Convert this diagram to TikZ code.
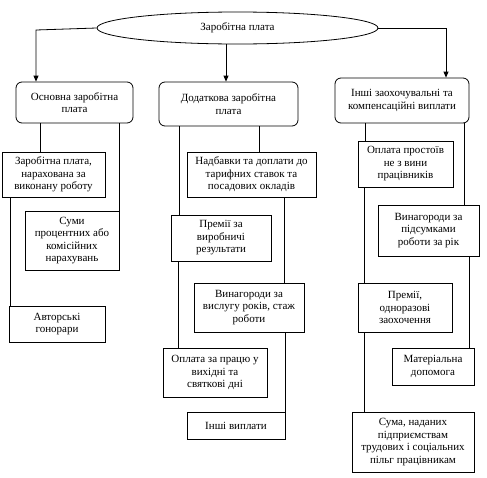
\documentclass[tikz,border=0pt]{standalone}
\usepackage{fontspec}
\setmainfont{Liberation Serif}
\usetikzlibrary{shapes.geometric,arrows.meta}
\begin{document}
\begin{tikzpicture}[x=1pt,y=-1pt,
  every node/.style={font=\fontsize{11}{12.5}\selectfont, align=center, inner sep=0pt},
  bx/.style={draw, line width=0.8pt, fill=white},
  rbx/.style={draw, line width=0.8pt, rounded corners=6pt, fill=white},
  ln/.style={line width=0.8pt},
  arr/.style={line width=0.8pt, -{Triangle[length=6pt,width=5pt]}}]
\useasboundingbox (0,0) rectangle (487,477);
\node[draw, ellipse, line width=0.8pt, minimum width=281pt, minimum height=32pt] (e) at (237.5,28) {Заробітна плата};
\node[rbx, minimum width=117pt, minimum height=41pt] (b1) at (74.5,102.5) {Основна заробітна\\плата};
\node[rbx, minimum width=139pt, minimum height=44pt] (b2) at (228.5,104) {Додаткова заробітна\\плата};
\node[rbx, minimum width=134pt, minimum height=45pt] (b3) at (402,100.5) {Інші заохочувальні та\\компенсаційні виплати};
\node[bx, minimum width=103pt, minimum height=45pt] (a1) at (53.5,174.5) {Заробітна плата,\\нарахована за\\виконану роботу};
\node[bx, minimum width=94pt, minimum height=59pt] (a2) at (72,240.5) {Суми\\процентних або\\комісійних\\нарахувань};
\node[bx, minimum width=96pt, minimum height=36pt] (a3) at (57,324) {Авторські\\гонорари};
\node[bx, minimum width=129pt, minimum height=45pt] (m1) at (251.5,174.5) {Надбавки та доплати до\\тарифних ставок та\\посадових окладів};
\node[bx, minimum width=100pt, minimum height=46pt] (m2) at (221,238) {Премії за\\виробничі\\результати};
\node[bx, minimum width=110pt, minimum height=49pt] (m3) at (249,307.5) {Винагороди за\\вислугу років, стаж\\роботи};
\node[bx, minimum width=104pt, minimum height=49pt] (m4) at (215,372.5) {Оплата за працю у\\вихідні та\\святкові дні};
\node[bx, minimum width=98pt, minimum height=27pt] (m5) at (236,425.5) {Інші виплати};
\node[bx, minimum width=95pt, minimum height=46pt] (r1) at (405.5,164) {Оплата простоїв\\не з вини\\працівників};
\node[bx, minimum width=101pt, minimum height=51pt] (r2) at (428.5,230.5) {Винагороди за\\підсумками\\роботи за рік};
\node[bx, minimum width=94pt, minimum height=49pt] (r3) at (405,307.5) {Премії,\\одноразові\\заохочення};
\node[bx, minimum width=82pt, minimum height=37pt] (r4) at (433,366.5) {Матеріальна\\допомога};
\node[bx, minimum width=122pt, minimum height=60pt] (r5) at (413,442) {Сума, наданих\\підприємствам\\трудових і соціальних\\пільг працівникам};
% arrows from ellipse
\draw[arr] (e.west) -- (36,30) -- (36,0 |- b1.north);
\draw[arr] (226,0 |- e.south) -- (226,0 |- b2.north);
\draw[arr] (e.east) -- (446,0 |- e.east) -- (446,0 |- b3.north);
% verticals
\draw[ln] (40,0 |- b1.south) -- (40,0 |- a1.north);
\draw[ln] (119,0 |- b1.south) -- (119,0 |- a2.north);
\draw[ln] (10,0 |- a1.south) -- (10,0 |- a3.north);
\draw[ln] (179,0 |- b2.south) -- (179,0 |- m2.north);
\draw[ln] (259,0 |- b2.south) -- (259,0 |- m1.north);
\draw[ln] (284,0 |- m1.south) -- (284,0 |- m3.north);
\draw[ln] (178,0 |- m2.south) -- (178,0 |- m4.north);
\draw[ln] (285,0 |- m3.south) -- (285,0 |- m5.north);
\draw[ln] (365,0 |- b3.south) -- (365,0 |- r1.north);
\draw[ln] (464,0 |- b3.south) -- (464,0 |- r2.north);
\draw[ln] (364,0 |- r1.south) -- (364,0 |- r3.north);
\draw[ln] (469,0 |- r2.south) -- (469,0 |- r4.north);
\draw[ln] (364,0 |- r3.south) -- (364,0 |- r5.north);
\end{tikzpicture}
\end{document}
